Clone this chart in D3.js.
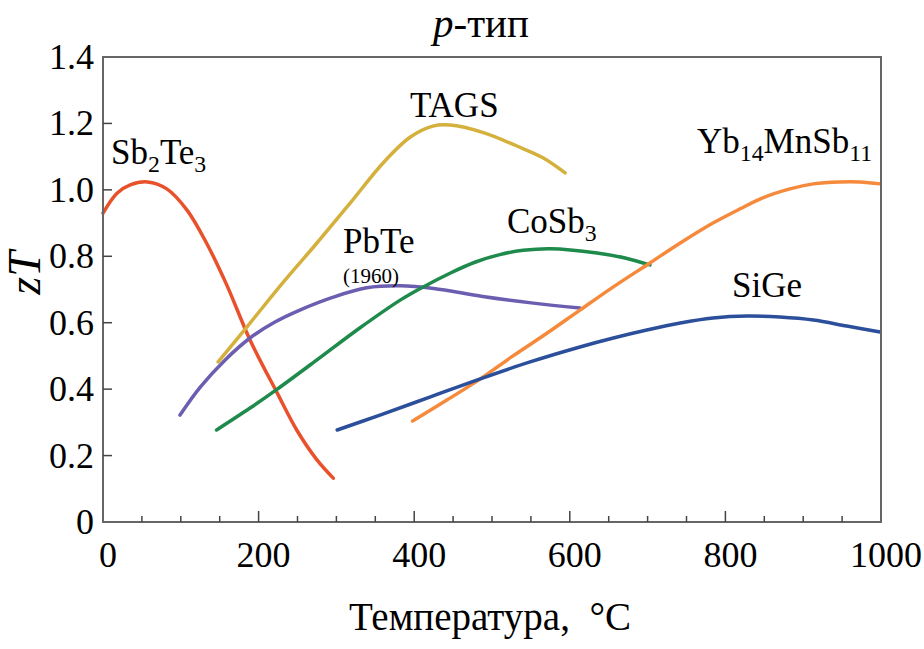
<!DOCTYPE html>
<html>
<head>
<meta charset="utf-8">
<script src="https://cdn.jsdelivr.net/npm/d3@7"></script>
<style>
  body { margin: 0; background: #fff; }
</style>
</head>
<body>
<div id="chart"></div>
<script>
// zT vs temperature, p-type materials
let xTicks = [0, 200, 400, 600, 800, 1000]
let yTicks = [0, 0.2, 0.4, 0.6, 0.8, 1.0, 1.2, 1.4]

let sb2te3 = [[0, 0.93], [18, 0.99], [35, 1.015], [57, 1.024], [82, 1.003], [108, 0.939], [133, 0.84], [159, 0.714], [189, 0.548], [224, 0.388], [249, 0.277], [275, 0.187], [296, 0.132]]
let tags = [[148, 0.482], [189, 0.599], [231, 0.72], [275, 0.84], [318, 0.961], [360, 1.081], [395, 1.159], [424, 1.192], [446, 1.195], [488, 1.173], [532, 1.132], [566, 1.096], [594, 1.051]]
let pbte = [[99, 0.322], [125, 0.406], [157, 0.488], [189, 0.554], [221, 0.602], [253, 0.638], [296, 0.677], [339, 0.705], [382, 0.711], [425, 0.703], [488, 0.679], [553, 0.659], [613, 0.644]]
let cosb3 = [[146, 0.277], [189, 0.343], [224, 0.4], [275, 0.488], [330, 0.584], [382, 0.668], [411, 0.707], [446, 0.749], [478, 0.782], [510, 0.805], [540, 0.818], [575, 0.823], [635, 0.81], [671, 0.795], [703, 0.774]]
let yb14 = [[398, 0.304], [442, 0.367], [485, 0.431], [527, 0.5], [571, 0.569], [613, 0.638], [656, 0.708], [703, 0.78], [742, 0.84], [784, 0.9], [819, 0.943], [848, 0.976], [883, 1.003], [913, 1.018], [947, 1.024], [973, 1.024], [999, 1.018]]
let sige = [[301, 0.277], [356, 0.322], [420, 0.376], [485, 0.431], [549, 0.482], [613, 0.527], [656, 0.554], [699, 0.578], [742, 0.599], [784, 0.614], [828, 0.62], [870, 0.617], [913, 0.608], [956, 0.59], [999, 0.572]]

let series = [
  { name: 'Sb2Te3', values: sb2te3, color: '#e8512b' },
  { name: 'TAGS', values: tags, color: '#d4b03c' },
  { name: 'PbTe', values: pbte, color: '#6b5db0' },
  { name: 'CoSb3', values: cosb3, color: '#1e8a4c' },
  { name: 'Yb14MnSb11', values: yb14, color: '#f58a3c' },
  { name: 'SiGe', values: sige, color: '#2b4f9a' }
]

let serif = '"Liberation Serif"'

let margin = { top: 57, left: 103, right: 43, bottom: 127 }
let width = 924 - margin.left - margin.right
let height = 649 - margin.top - margin.bottom

let svg = d3
  .select('#chart')
  .append('svg')
  .attr('width', 924)
  .attr('height', 649)
  .append('g')
  .attr('transform', `translate(${margin.left}, ${margin.top})`)

let xPositionScale = d3.scaleLinear().domain([0, 1000]).range([0, width])
let yPositionScale = d3.scaleLinear().domain([0, 1.4]).range([height, 0])

let line = d3
  .line()
  .x(d => xPositionScale(d[0]))
  .y(d => yPositionScale(d[1]))
  .curve(d3.curveCatmullRom.alpha(0.5))

// curves
svg
  .selectAll('.zt-line')
  .data(series)
  .enter()
  .append('path')
  .attr('class', 'zt-line')
  .attr('d', d => line(d.values))
  .attr('stroke', d => d.color)
  .attr('stroke-width', 3.5)
  .attr('stroke-linecap', 'round')
  .attr('fill', 'none')

// frame
svg
  .append('rect')
  .attr('width', width)
  .attr('height', height)
  .attr('fill', 'none')
  .attr('stroke', '#666')
  .attr('stroke-width', 2)

// x ticks: minor every 50, major every 200, pointing inward
let minorX = d3.range(50, 1000, 50)
svg
  .selectAll('.x-tick')
  .data(minorX)
  .enter()
  .append('line')
  .attr('class', 'x-tick')
  .attr('x1', d => xPositionScale(d))
  .attr('x2', d => xPositionScale(d))
  .attr('y1', height)
  .attr('y2', d => (d % 200 === 0 ? height - 11 : height - 6))
  .attr('stroke', '#444')
  .attr('stroke-width', 1.5)

svg
  .selectAll('.x-label')
  .data(xTicks)
  .enter()
  .append('text')
  .attr('class', 'x-label')
  .attr('x', d => xPositionScale(d) + 5)
  .attr('y', height + 45)
  .attr('text-anchor', 'middle')
  .style('font-size', '36px')
  .style('font-family', serif)
  .text(d => d)

// y ticks
svg
  .selectAll('.y-tick')
  .data(yTicks.slice(1, -1))
  .enter()
  .append('line')
  .attr('class', 'y-tick')
  .attr('x1', 0)
  .attr('x2', 9)
  .attr('y1', d => yPositionScale(d))
  .attr('y2', d => yPositionScale(d))
  .attr('stroke', '#444')
  .attr('stroke-width', 1.5)

svg
  .selectAll('.y-label')
  .data(yTicks)
  .enter()
  .append('text')
  .attr('class', 'y-label')
  .attr('x', -9)
  .attr('y', d => yPositionScale(d) + 12)
  .attr('text-anchor', 'end')
  .style('font-size', '36px')
  .style('font-family', serif)
  .text(d => (d === 0 ? '0' : d3.format('.1f')(d)))

// series labels with subscripts
function label(x, y, parts, size) {
  let t = svg
    .append('text')
    .attr('x', x - margin.left)
    .attr('y', y - margin.top)
    .style('font-size', size + 'px')
    .style('font-family', serif)
  let down = false
  parts.forEach(p => {
    let s = t.append('tspan').style('font-family', serif).text(p[0])
    if (p[1]) {
      s.style('font-size', size * 0.68 + 'px')
      if (!down) s.attr('dy', 8)
      down = true
    } else if (down) {
      s.attr('dy', -8)
      down = false
    }
  })
  return t
}

label(111, 164, [['Sb'], ['2', 1], ['Te'], ['3', 1]], 35)
label(410, 117, [['TAGS']], 35)
label(343, 253, [['PbTe']], 35)
label(343, 283, [['(1960)']], 21)
label(507, 233, [['CoSb'], ['3', 1]], 35)
label(697, 153, [['Yb'], ['14', 1], ['MnSb'], ['11', 1]], 35)
label(732, 297, [['SiGe']], 35)

// title
let title = svg
  .append('text')
  .attr('x', 481 - margin.left)
  .attr('y', 37 - margin.top)
  .attr('text-anchor', 'middle')
  .style('font-size', '41px')
  .style('font-family', serif)
title.append('tspan').style('font-family', serif).style('font-style', 'italic').text('p')
title.append('tspan').style('font-family', serif).text('-тип')

// axis titles
svg
  .append('text')
  .attr('x', 490 - margin.left)
  .attr('y', 630 - margin.top)
  .attr('text-anchor', 'middle')
  .style('font-size', '39px')
  .style('font-family', serif)
  .text('Температура,\u00a0\u00a0°C')

let yTitle = svg
  .append('text')
  .attr('transform', `translate(${40 - margin.left}, ${273 - margin.top}) rotate(-90)`)
  .attr('text-anchor', 'middle')
  .style('font-size', '46px')
  .style('font-style', 'italic')
  .style('font-family', serif)
yTitle.append('tspan').style('font-family', serif).text('z')
yTitle.append('tspan').style('font-family', serif).text('T')
</script>
</body>
</html>
